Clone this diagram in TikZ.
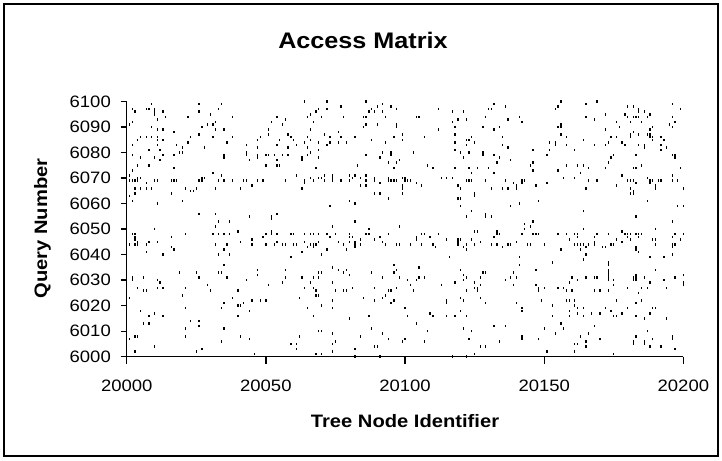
\documentclass[tikz,border=0pt]{standalone}
\usepackage{fontspec}
\setmainfont{Liberation Sans}
\newfontfamily\widesans[FakeStretch=1.12]{Liberation Sans}
\begin{document}
\begin{tikzpicture}[x=1pt,y=-1pt,
  frame/.style={draw=black,line width=1.4pt},
  axisline/.style={draw=black,line width=1.3pt},
  ticklab/.style={inner sep=0pt,font=\widesans\fontsize{16.5}{20}\selectfont},
  axtitle/.style={inner sep=0pt,font=\widesans\fontsize{18}{22}\selectfont\bfseries},
  charttitle/.style={inner sep=0pt,font=\widesans\fontsize{22.5}{26}\selectfont\bfseries},
  dotc/.style={fill=black}]
\useasboundingbox (0,0) rectangle (722,460);
\fill[white] (0,0) rectangle (722,460);
\draw[frame] (4,4) rectangle (718,456);
% title and axis titles
\node[charttitle] (title) at (363,40.5) {Access Matrix};
\node[axtitle] (xtitle) at (405,421) {Tree Node Identifier};
\node[axtitle,rotate=90] (ytitle) at (42.5,228.5) {Query Number};
% axes
\coordinate (origin) at (126.7,356.7);
\coordinate (ytop) at (126.7,101.5);
\coordinate (xend) at (683.3,356.7);
\draw[axisline] (ytop) -- (origin) -- (xend);
\foreach \q in {0,10,...,100}{
  \pgfmathsetmacro\yy{356.7-2.552*\q}
  \draw[axisline] (120.5,\yy) -- (126.7,\yy);
  \node[ticklab,anchor=east] (yl\q) at (111,\yy) {\the\numexpr6000+\q\relax};
}
\foreach \n in {0,50,...,200}{
  \pgfmathsetmacro\xx{126.7+2.7833*\n}
  \draw[axisline] (\xx,356.7) -- (\xx,363.5);
  \node[ticklab] (xl\n) at (\xx,386) {\the\numexpr20000+\n\relax};
}
% data points
\pgfmathsetseed{7}
\foreach \q/\d in {100/0.03,99/0.05,98/0.06,97/0.07,96/0.06,95/0.05,94/0.09,93/0.05,92/0.04,91/0.05,
  90/0.03,89/0.06,88/0.04,87/0.05,86/0.09,85/0.06,84/0.07,83/0.05,82/0.06,81/0.04,
  80/0.05,79/0.13,78/0.06,77/0.04,76/0.03,75/0.05,74/0.04,73/0.03,72/0.03,71/0.05,
  70/0.08,69/0.30,68/0.06,67/0.04,66/0.09,65/0.05,64/0.03,63/0.03,62/0.02,61/0.03,
  60/0.02,59/0.02,58/0.02,57/0.01,56/0.02,55/0.02,54/0.01,53/0.02,52/0.01,51/0.02,
  50/0.04,49/0.06,48/0.22,47/0.06,46/0.07,45/0.10,44/0.25,43/0.06,42/0.03,41/0.02,
  40/0.02,39/0.03,38/0.02,37/0.02,36/0.02,35/0.03,34/0.04,33/0.05,32/0.04,31/0.14,
  30/0.05,29/0.05,28/0.07,27/0.08,26/0.06,25/0.02,24/0.02,23/0.03,22/0.04,21/0.03,
  20/0.03,19/0.05,18/0.03,17/0.06,16/0.05,15/0.03,14/0.02,13/0.02,12/0.03,11/0.03,
  10/0.02,9/0.02,8/0.03,7/0.06,6/0.04,5/0.05,4/0.03,3/0.02,2/0.03,1/0.03,0/0.02}{
  \pgfmathsetmacro\yy{356.7-2.552*\q}
  \foreach \a/\b/\w in {0/3/2.0,4/11/1.3,12/24/0.8,25/31/1.0,32/36/1.8,37/45/0.9,
    46/52/1.1,53/62/1.0,63/71/1.5,72/83/0.9,84/93/1.3,94/104/1.0,105/114/0.7,
    115/118/1.0,119/125/1.8,126/135/1.0,136/149/0.8,150/160/0.9,161/168/1.6,
    169/176/1.2,177/181/1.4,182/188/2.2,189/195/0.9,196/200/1.2}{
    \pgfmathsetmacro\thr{0.85*\d*\w}
    \foreach \n in {\a,...,\b}{
      \pgfmathrnd
      \ifdim\pgfmathresult pt<\thr pt
        \fill[dotc] ({126.7+2.7833*\n-0.65},{\yy-1.25}) rectangle ++(1.3,2.5);
      \fi
    }
  }
}
\end{tikzpicture}
\end{document}
